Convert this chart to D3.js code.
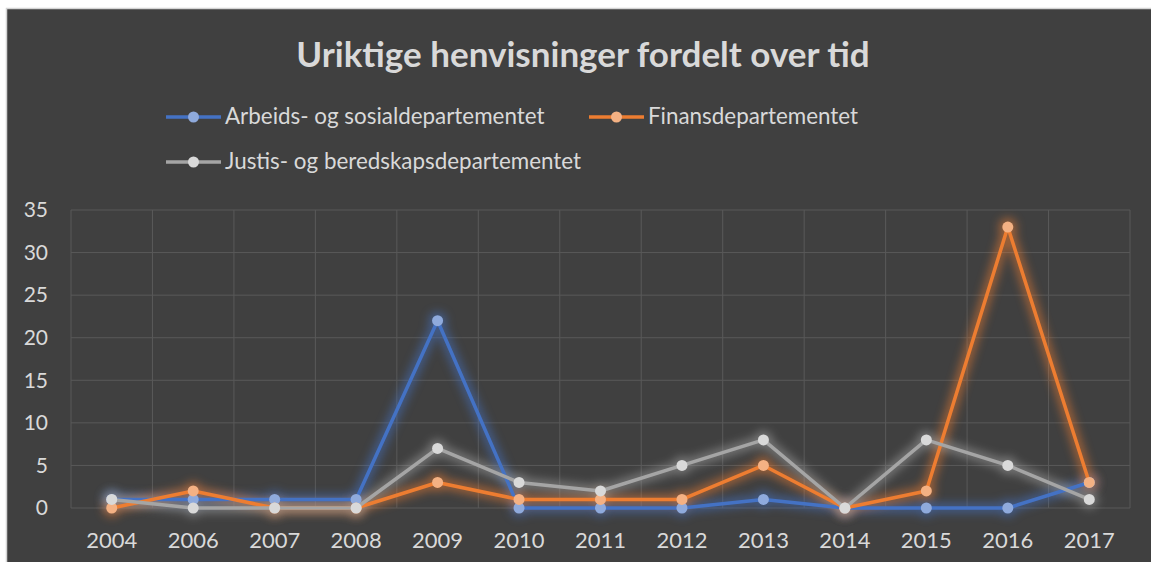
<!DOCTYPE html>
<html>
<head>
<meta charset="utf-8">
<script src="https://cdnjs.cloudflare.com/ajax/libs/d3/7.8.5/d3.min.js"></script>
<style>
body { margin: 0; background: #fff; }
svg { display: block; }
</style>
</head>
<body>
<div id="chart"></div>
<script>
var years = ["2004", "2006", "2007", "2008", "2009", "2010", "2011", "2012", "2013", "2014", "2015", "2016", "2017"];
var arbeids = [1, 1, 1, 1, 22, 0, 0, 0, 1, 0, 0, 0, 3];
var finans = [0, 2, 0, 0, 3, 1, 1, 1, 5, 0, 2, 33, 3];
var justis = [1, 0, 0, 0, 7, 3, 2, 5, 8, 0, 8, 5, 1];
var yTicks = [0, 5, 10, 15, 20, 25, 30, 35];
var seriesNames = ["Arbeids- og sosialdepartementet", "Finansdepartementet", "Justis- og beredskapsdepartementet"];

var w = 1151, h = 562;
var font = "Lato, 'Open Sans', sans-serif";
var textCol = "#d9d9d9";

var svg = d3.select("#chart").append("svg")
	.attr("width", w)
	.attr("height", h);

var defs = svg.append("defs");
defs.append("filter")
	.attr("id", "glow")
	.attr("x", "-20%").attr("y", "-20%")
	.attr("width", "140%").attr("height", "140%")
	.append("feGaussianBlur")
	.attr("stdDeviation", 5);

// panel
svg.append("rect")
	.attr("x", 6.5).attr("y", 8.5)
	.attr("width", w).attr("height", h)
	.attr("fill", "#404040")
	.attr("stroke", "#d4d4d4")
	.attr("stroke-width", 1.5);

var plot = {left: 71, right: 1130, top: 210, bottom: 508};

var x = d3.scaleBand()
	.domain(years)
	.range([plot.left, plot.right]);
var y = d3.scaleLinear()
	.domain([0, 35])
	.range([plot.bottom, plot.top]);

// grid
svg.append("g").selectAll("line")
	.data(yTicks)
	.enter().append("line")
	.attr("x1", plot.left).attr("x2", plot.right)
	.attr("y1", function(d) {return y(d);})
	.attr("y2", function(d) {return y(d);})
	.attr("stroke", "#595959")
	.attr("stroke-width", 1);
var vlines = years.map(function(d) {return x(d);}).concat([plot.right]);
svg.append("g").selectAll("line")
	.data(vlines)
	.enter().append("line")
	.attr("x1", function(d) {return d;}).attr("x2", function(d) {return d;})
	.attr("y1", plot.top).attr("y2", plot.bottom)
	.attr("stroke", "#595959")
	.attr("stroke-width", 1);

// axes
var yAxis = svg.append("g")
	.attr("transform", "translate(" + (plot.left - 23) + ",0)")
	.call(d3.axisLeft(y).tickValues(yTicks).tickSize(0).tickPadding(0));
yAxis.select(".domain").remove();
yAxis.selectAll("text")
	.attr("fill", textCol)
	.style("font-family", font)
	.style("font-size", "21px");

var xAxis = svg.append("g")
	.attr("transform", "translate(0," + (plot.bottom + 24) + ")")
	.call(d3.axisBottom(x).tickSize(0).tickPadding(0));
xAxis.select(".domain").remove();
xAxis.selectAll("text")
	.attr("fill", textCol)
	.style("font-family", font)
	.style("font-size", "22px");

// series
var series = [
	{name: seriesNames[0], values: arbeids, color: "#4472c4", marker: "#8faadc"},
	{name: seriesNames[1], values: finans, color: "#ed7d31", marker: "#f4b183"},
	{name: seriesNames[2], values: justis, color: "#a5a5a5", marker: "#d9d9d9"}
];

var line = d3.line()
	.x(function(d, i) {return x(years[i]) + x.bandwidth() / 2;})
	.y(function(d) {return y(d);});

// glow layer
series.forEach(function(s) {
	var g = svg.append("g").attr("filter", "url(#glow)").attr("opacity", 0.55);
	g.append("path")
		.attr("d", line(s.values))
		.attr("fill", "none")
		.attr("stroke", s.color)
		.attr("stroke-width", 10)
		.attr("stroke-linejoin", "round");
	g.selectAll("circle")
		.data(s.values)
		.enter().append("circle")
		.attr("cx", function(d, i) {return x(years[i]) + x.bandwidth() / 2;})
		.attr("cy", function(d) {return y(d);})
		.attr("r", 9)
		.attr("fill", s.color);
});

series.forEach(function(s) {
	svg.append("path")
		.attr("d", line(s.values))
		.attr("fill", "none")
		.attr("stroke", s.color)
		.attr("stroke-width", 3.5)
		.attr("stroke-linejoin", "round");
	svg.append("g").selectAll("circle")
		.data(s.values)
		.enter().append("circle")
		.attr("cx", function(d, i) {return x(years[i]) + x.bandwidth() / 2;})
		.attr("cy", function(d) {return y(d);})
		.attr("r", 5.5)
		.attr("fill", s.marker);
});

// title
svg.append("text")
	.attr("x", 583).attr("y", 67)
	.attr("text-anchor", "middle")
	.attr("fill", textCol)
	.style("font-family", font)
	.style("font-size", "35px")
	.style("font-weight", "bold")
	.text("Uriktige henvisninger fordelt over tid");

// legend
var legendPos = [{x: 166, y: 117}, {x: 589, y: 117}, {x: 166, y: 162}];
series.forEach(function(s, i) {
	var p = legendPos[i];
	var lg = svg.append("g").attr("transform", "translate(" + p.x + "," + p.y + ")");
	lg.append("line")
		.attr("x1", 0).attr("x2", 55)
		.attr("stroke", s.color)
		.attr("stroke-width", 3.5);
	lg.append("circle")
		.attr("cx", 27.5).attr("r", 5.5)
		.attr("fill", s.marker);
	lg.append("text")
		.attr("x", 59).attr("y", 7)
		.attr("fill", textCol)
		.style("font-family", font)
		.style("font-size", "22.4px")
		.text(s.name);
});
</script>
</body>
</html>
